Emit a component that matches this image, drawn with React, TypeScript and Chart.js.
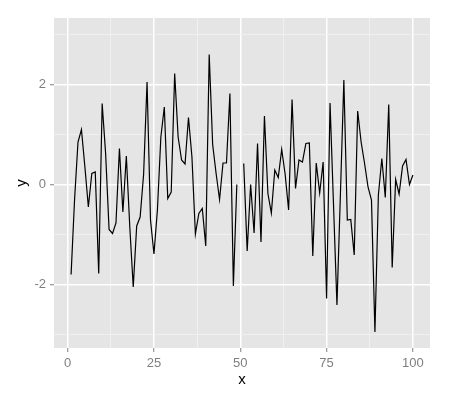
import React, { useEffect, useRef } from "react";
import { Chart, registerables } from "chart.js";

Chart.register(...registerables);

const xValues: number[] = Array.from({ length: 100 }, (_, i) => i + 1);
const yValues: (number | null)[] = [
  -1.8, -0.31, 0.85, 1.1, 0.35, -0.45, 0.22, 0.25, -1.78, 1.62,
  0.62, -0.9, -0.98, -0.77, 0.72, -0.55, 0.57, -0.85, -2.05, -0.83,
  -0.65, 0.2, 2.05, -0.71, -1.39, -0.51, 0.95, 1.55, -0.28, -0.15,
  2.22, 0.95, 0.49, 0.41, 1.34, 0.55, -0.99, -0.58, -0.48, -1.23,
  2.6, 0.8, 0.22, -0.3, 0.43, 0.43, 1.82, -2.03, 0.0, null,
  0.42, -1.33, 0.0, -0.97, 0.82, -1.15, 1.37, -0.18, -0.57, 0.29,
  0.14, 0.7, 0.2, -0.51, 1.7, -0.08, 0.49, 0.45, 0.82, 0.83,
  -1.43, 0.43, -0.17, 0.45, -2.28, 1.63, -0.4, -2.41, -0.2, 2.09,
  -0.71, -0.7, -1.41, 1.47, 0.85, 0.42, -0.05, -0.31, -2.95, -0.21,
  0.52, -0.26, 1.6, -1.66, 0.1, -0.19, 0.37, 0.5, 0.0, 0.19,
];
const xMajorTicks = [0, 25, 50, 75, 100];
const xMinorTicks = [12.5, 37.5, 62.5, 87.5];
const yMajorTicks = [-2, 0, 2];
const yMinorTicks = [-3, -1, 1, 3];

const FONT = "'Liberation Sans', Arial, Helvetica, sans-serif";

const panelBg = {
  id: "panelBg",
  beforeDraw(chart: any) {
    const { ctx, chartArea } = chart;
    ctx.save();
    ctx.fillStyle = "#E5E5E5";
    ctx.fillRect(chartArea.left, chartArea.top, chartArea.right - chartArea.left, chartArea.bottom - chartArea.top);
    ctx.restore();
  },
};

function gridOpts(majors: number[]) {
  const isMajor = (ctx: any) => ctx.tick && majors.includes(ctx.tick.value);
  return {
    color: (ctx: any) => (isMajor(ctx) ? "#FFFFFF" : "#F2F2F2"),
    lineWidth: (ctx: any) => (isMajor(ctx) ? 1.5 : 0.8),
    tickColor: (ctx: any) => (isMajor(ctx) ? "#7F7F7F" : "rgba(0,0,0,0)"),
    tickWidth: 1,
    tickLength: 4,
    drawOnChartArea: true,
    drawTicks: true,
    z: -1,
  };
}

export default function App() {
  const ref = useRef<HTMLCanvasElement | null>(null);
  useEffect(() => {
    if (!ref.current) return;
    const data = xValues.map((x, i) => ({ x, y: yValues[i] }));
    const chart = new Chart(ref.current, {
      type: "line",
      data: {
        datasets: [
          {
            data: data as any,
            borderColor: "#000000",
            borderWidth: 1.2,
            pointRadius: 0,
            tension: 0,
            spanGaps: false,
            fill: false,
          },
        ],
      },
      plugins: [panelBg],
      options: {
        animation: false,
        responsive: false,
        devicePixelRatio: 1,
        layout: { padding: { top: 18, right: 20, left: 0, bottom: 0 } },
        plugins: { legend: { display: false }, tooltip: { enabled: false } },
        scales: {
          x: {
            type: "linear",
            min: -3.95,
            max: 104.95,
            bounds: "data",
            border: { display: false },
            grid: gridOpts(xMajorTicks) as any,
            afterBuildTicks: (scale: any) => {
              scale.ticks = [...xMinorTicks, ...xMajorTicks].sort((a, b) => a - b).map((v) => ({ value: v }));
            },
            afterFit: (scale: any) => {
              scale.height = 52;
            },
            ticks: {
              autoSkip: false,
              maxRotation: 0,
              padding: 4,
              color: "#7F7F7F",
              font: { family: FONT, size: 13 },
              callback: (v: any) => (xMajorTicks.includes(Number(v)) ? String(v) : ""),
            },
            title: {
              display: true,
              text: "x",
              color: "#000000",
              font: { family: FONT, size: 15 },
              padding: { top: 0, bottom: 11 },
            },
          },
          y: {
            type: "linear",
            min: -3.27,
            max: 3.33,
            bounds: "data",
            border: { display: false },
            grid: gridOpts(yMajorTicks) as any,
            afterBuildTicks: (scale: any) => {
              scale.ticks = [...yMinorTicks, ...yMajorTicks].sort((a, b) => a - b).map((v) => ({ value: v }));
            },
            afterFit: (scale: any) => {
              scale.width = 54;
            },
            ticks: {
              autoSkip: false,
              padding: 4,
              color: "#7F7F7F",
              font: { family: FONT, size: 13 },
              callback: (v: any) => (yMajorTicks.includes(Number(v)) ? String(v) : ""),
            },
            title: {
              display: true,
              text: "y",
              color: "#000000",
              font: { family: FONT, size: 15 },
              padding: { top: 13, bottom: 0 },
            },
          },
        },
      },
    });
    return () => chart.destroy();
  }, []);
  return (
    <div style={{ position: "absolute", left: 0, top: 0, width: 450, height: 400, background: "#FFFFFF" }}>
      <canvas ref={ref} width={450} height={400} style={{ display: "block", width: 450, height: 400 }} />
    </div>
  );
}
